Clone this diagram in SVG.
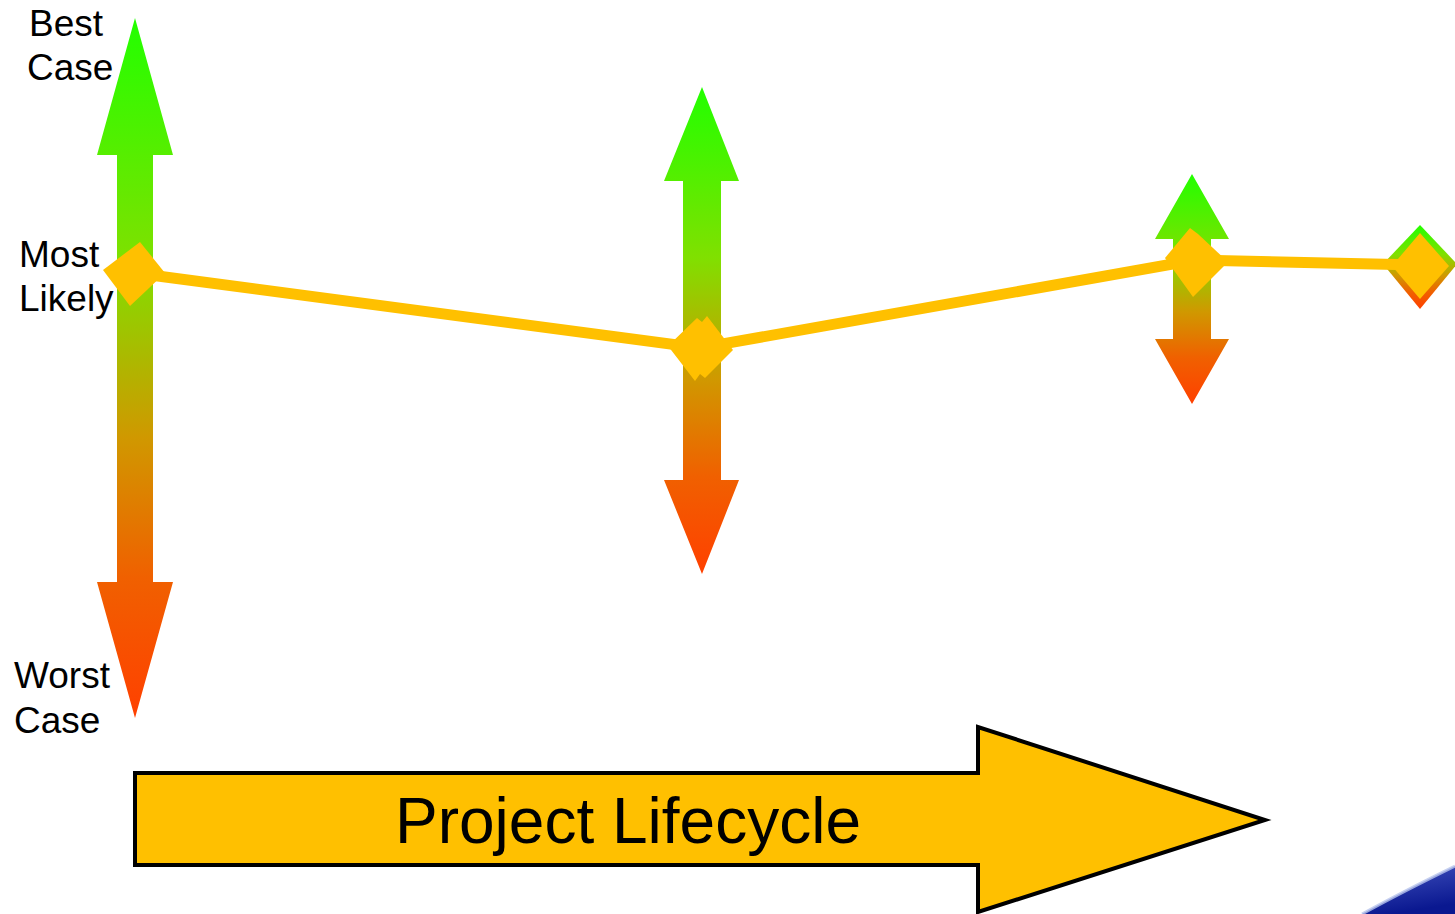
<svg xmlns="http://www.w3.org/2000/svg" width="1455" height="914" viewBox="0 0 1455 914">
<style>
.lbl{font-family:"Liberation Sans",Arial,sans-serif;font-size:37px;fill:#000}
.dia{fill:#ffc000}
.big{font-family:"Liberation Sans",Arial,sans-serif;font-size:64px;fill:#000}
</style>
<defs>
<linearGradient id="gr" x1="0" y1="0" x2="0" y2="1">
<stop offset="0" stop-color="#22ff00"/>
<stop offset="0.35" stop-color="#80e000"/>
<stop offset="0.6" stop-color="#d09800"/>
<stop offset="0.8" stop-color="#f06000"/>
<stop offset="1" stop-color="#ff4000"/>
</linearGradient>
<linearGradient id="blue" x1="0" y1="0" x2="0.3" y2="1">
<stop offset="0" stop-color="#c8d0f0"/>
<stop offset="0.3" stop-color="#3040b0"/>
<stop offset="1" stop-color="#0a1890"/>
</linearGradient>
</defs>
<rect width="1455" height="914" fill="#fff"/>
<g id="swoosh">
<path d="M1362,914 Q1400,893 1455,866 L1455,914 Z" fill="url(#blue)"/>
<path d="M1362,914 Q1400,893 1455,866" fill="none" stroke="#b8c4ec" stroke-width="3" opacity="0.8"/>
</g>
<g id="range1"><polygon points="135,18 173,155 153,155 153,582 173,582 135,718 97,582 117,582 117,155 97,155" fill="url(#gr)"/></g>
<g id="range2"><polygon points="702,87 739,181 721,181 721,480 739,480 702,574 664,480 683,480 683,181 664,181" fill="url(#gr)"/></g>
<g id="range3"><polygon points="1192,174 1229,239 1211,239 1211,339 1229,339 1192,404 1155,339 1173,339 1173,239 1155,239" fill="url(#gr)"/></g>
<g id="range4"><polygon points="1420,225 1457,264 1420,309 1383,264" fill="url(#gr)"/></g>
<g id="connectors">
<polyline points="135,273 700,348 1195,260 1420,265" fill="none" stroke="#ffc000" stroke-width="11" stroke-linejoin="miter"/>
</g>
<g id="d1"><polygon class="dia" points="103,270 140,242 165,273 130,306"/></g>
<g id="d2"><polygon class="dia" points="668,346 697,318 702,322 707,316 733,350 705,378 700,374 695,381"/></g>
<g id="d3"><polygon class="dia" points="1165,258 1190,228 1198,234 1228,262 1198,292 1193,297"/></g>
<g id="d4"><polygon class="dia" points="1392,266 1420,233 1449,266 1420,299"/></g>
<g id="labels">
<text class="lbl" x="29" y="36">Best</text>
<text class="lbl" x="27" y="80">Case</text>
<text class="lbl" x="19" y="267">Most</text>
<text class="lbl" x="19" y="311">Likely</text>
<text class="lbl" x="14" y="688">Worst</text>
<text class="lbl" x="14" y="733">Case</text>
</g>
<g id="lifecycle">
<polygon points="135,773 978,773 978,727 1265,820 978,912 978,865 135,865" fill="#ffc000" stroke="#000" stroke-width="4" stroke-linejoin="miter"/>
<text class="big" x="628" y="843" text-anchor="middle">Project Lifecycle</text>
</g>
</svg>
